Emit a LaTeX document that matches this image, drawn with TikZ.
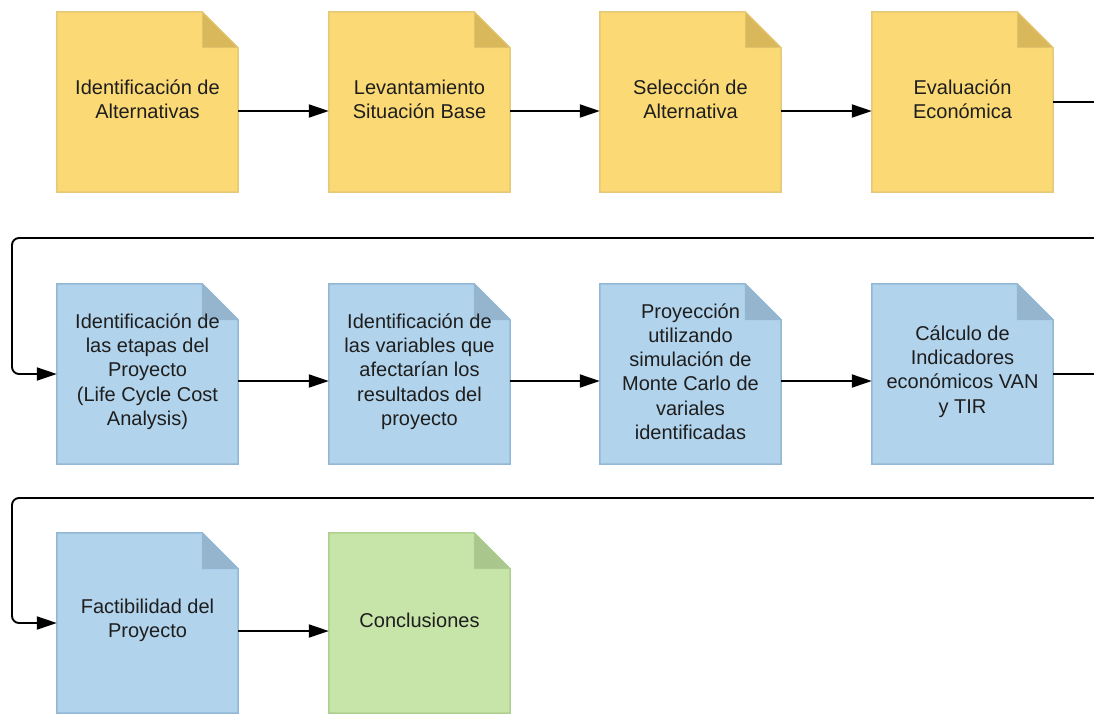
\documentclass[tikz,border=0pt]{standalone}
\usepackage{fontspec}
\setmainfont{Liberation Sans}
\usetikzlibrary{arrows.meta,backgrounds}
\definecolor{yfill}{HTML}{FBDA75}
\definecolor{yline}{HTML}{E6C978}
\definecolor{yfold}{HTML}{D9B85B}
\definecolor{bfill}{HTML}{B1D3EC}
\definecolor{bline}{HTML}{93B8D6}
\definecolor{bfold}{HTML}{95B5CE}
\definecolor{gfill}{HTML}{C7E5A9}
\definecolor{gline}{HTML}{AED08F}
\definecolor{gfold}{HTML}{A9C68D}
\definecolor{txt}{HTML}{1E1E1E}
\tikzset{
  note/.style={minimum width=181pt, minimum height=180pt, inner sep=0pt},
  notetext/.style={inner sep=0pt, align=center,
    font=\fontsize{20}{24.3}\selectfont, text=txt},
  flow/.style={line width=1.9pt, -{Triangle[length=20pt,width=13pt]}},
  wire/.style={line width=1.9pt},
}
\newcommand\notebg[2]{%
  \path[fill=#2fill, draw=#2line, line width=1.5pt]
    (#1.north west) -- ([xshift=-36pt]#1.north east) -- ([yshift=-36pt]#1.north east)
    -- (#1.south east) -- (#1.south west) -- cycle;
  \path[fill=#2fold, draw=#2line, line width=0.8pt, line join=round]
    ([xshift=-36pt]#1.north east) -- ([xshift=-36pt,yshift=-36pt]#1.north east)
    -- ([yshift=-36pt]#1.north east) -- cycle;
}
\newcommand\notetxt[2]{\node[notetext] (#1t) at ([yshift=2.5pt]#1.center) {#2};}
\begin{document}
\begin{tikzpicture}[x=1pt,y=-1pt]
\useasboundingbox (0,0) rectangle (1094,713);
% boxes
\node[note] (n1) at (147.5,102) {};
\node[note] (n2) at (419.5,102) {};
\node[note] (n3) at (690.5,102) {};
\node[note] (n4) at (962.5,102) {};
\node[note] (n5) at (147.5,374) {};
\node[note] (n6) at (419.5,374) {};
\node[note] (n7) at (690.5,374) {};
\node[note] (n8) at (962.5,374) {};
\node[note] (n9) at (147.5,623) {};
\node[note] (n10) at (419.5,623) {};
\begin{scope}[on background layer]
  \notebg{n1}{y}\notebg{n2}{y}\notebg{n3}{y}\notebg{n4}{y}
  \notebg{n5}{b}\notebg{n6}{b}\notebg{n7}{b}\notebg{n8}{b}
  \notebg{n9}{b}\notebg{n10}{g}
\end{scope}
% texts
\notetxt{n1}{Identificación de\\Alternativas}
\notetxt{n2}{Levantamiento\\Situación Base}
\notetxt{n3}{Selección de\\Alternativa}
\notetxt{n4}{Evaluación\\Económica}
\notetxt{n5}{Identificación de\\las etapas del\\Proyecto\\(Life Cycle Cost\\Analysis)}
\notetxt{n6}{Identificación de\\las variables que\\afectarían los\\resultados del\\proyecto}
\notetxt{n7}{Proyección\\utilizando\\simulación de\\Monte Carlo de\\variales\\identificadas}
\notetxt{n8}{Cálculo de\\Indicadores\\económicos VAN\\y TIR}
\notetxt{n9}{Factibilidad del\\Proyecto}
\notetxt{n10}{Conclusiones}
% coordinates for wraps
\coordinate (lx) at (12,0);
\coordinate (e1) at (1094,102);
\coordinate (w1) at (1094,238);
\coordinate (e2) at (1094,374);
\coordinate (w2) at (1094,498);
% arrows row 1
\draw[flow] ([yshift=-9pt]n1.east) -- ([yshift=-9pt]n2.west);
\draw[flow] ([yshift=-9pt]n2.east) -- ([yshift=-9pt]n3.west);
\draw[flow] ([yshift=-9pt]n3.east) -- ([yshift=-9pt]n4.west);
\draw[wire] (n4.east) -- (e1);
\draw[flow, rounded corners=7pt] (w1) -- (w1 -| lx) -- (lx |- n5.west) -- (n5.west);
% row 2
\draw[flow] ([yshift=-7pt]n5.east) -- ([yshift=-7pt]n6.west);
\draw[flow] ([yshift=-7pt]n6.east) -- ([yshift=-7pt]n7.west);
\draw[flow] ([yshift=-7pt]n7.east) -- ([yshift=-7pt]n8.west);
\draw[wire] (n8.east) -- (e2);
\draw[flow, rounded corners=7pt] (w2) -- (w2 -| lx) -- (lx |- n9.west) -- (n9.west);
% row 3
\draw[flow] ([yshift=-8pt]n9.east) -- ([yshift=-8pt]n10.west);
\end{tikzpicture}
\end{document}
